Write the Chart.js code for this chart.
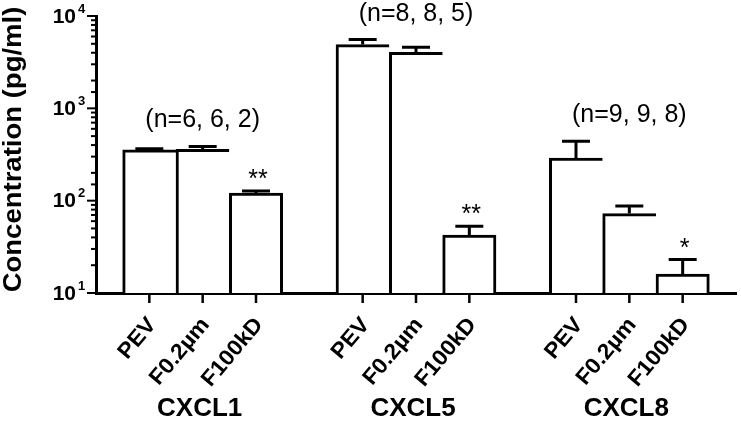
<!DOCTYPE html>
<html>
<head>
<meta charset="utf-8">
<script src="https://cdn.jsdelivr.net/npm/chart.js@4"></script>
<style>
  html, body { margin: 0; padding: 0; background: #fff; }
  #wrap { width: 741px; height: 422px; }
</style>
</head>
<body>
<div id="wrap"><canvas id="chart"></canvas></div>
<script>
// groups and treatments
const groups = ["CXCL1", "CXCL5", "CXCL8"];
const treatments = ["PEV", "F0.2µm", "F100kD"];
// mean concentration (pg/ml) per group, in treatment order
const cxcl1Means = [355, 360, 121];
const cxcl5Means = [4900, 4050, 42.5];
const cxcl8Means = [290, 72.5, 16];
// upper error (SEM) per group
const cxcl1Errors = [10, 25, 6];
const cxcl5Errors = [650, 550, 10.5];
const cxcl8Errors = [150, 15, 7];
const sampleSizes = ["(n=6, 6, 2)", "(n=8, 8, 5)", "(n=9, 9, 8)"];
const stars = [["", "", "**"], ["", "", "**"], ["", "", "*"]];
const yTickValues = [10, 100, 1000, 10000];

const FONT = '"Liberation Sans", Arial, Helvetica, sans-serif';
const means = [cxcl1Means, cxcl5Means, cxcl8Means];
const errors = [cxcl1Errors, cxcl5Errors, cxcl8Errors];

// one empty slot at each end and between groups
const labels = [""];
const values = [null];
const errs = [null];
const slotInfo = [null];
groups.forEach((g, gi) => {
  treatments.forEach((t, ti) => {
    labels.push(t);
    values.push(means[gi][ti]);
    errs.push(errors[gi][ti]);
    slotInfo.push({ group: gi, treat: ti });
  });
  labels.push("");
  values.push(null);
  errs.push(null);
  slotInfo.push(null);
});

function drawText(ctx, text, x, y, o) {
  ctx.save();
  ctx.translate(x, y);
  if (o.angle) ctx.rotate(o.angle);
  if (o.sx) ctx.scale(o.sx, 1);
  ctx.font = (o.weight || "normal") + " " + o.size + "px " + FONT;
  ctx.textAlign = o.align || "center";
  ctx.textBaseline = o.baseline || "middle";
  ctx.fillStyle = "#000";
  ctx.fillText(text, 0, 0);
  ctx.restore();
}

const decorations = {
  id: "decorations",
  afterDatasetsDraw(chart) {
    const ctx = chart.ctx;
    const x = chart.scales.x;
    const y = chart.scales.y;
    const area = chart.chartArea;
    ctx.save();
    ctx.strokeStyle = "#000";
    ctx.lineCap = "butt";

    // error bars (upper only)
    values.forEach((v, i) => {
      if (v == null) return;
      const cx = x.getPixelForValue(i);
      const top = y.getPixelForValue(v);
      const end = y.getPixelForValue(v + errs[i]);
      ctx.lineWidth = 3;
      ctx.beginPath();
      ctx.moveTo(cx, top);
      ctx.lineTo(cx, end);
      ctx.moveTo(cx - 14, end);
      ctx.lineTo(cx + 14, end);
      ctx.stroke();
    });

    // y ticks: long at decades, short for the minor ones
    y.ticks.forEach((t) => {
      const py = y.getPixelForValue(t.value);
      const major = Math.abs(Math.log10(t.value) - Math.round(Math.log10(t.value))) < 1e-6;
      ctx.lineWidth = 2;
      ctx.beginPath();
      ctx.moveTo(area.left, py);
      ctx.lineTo(area.left - (major ? 9 : 5), py);
      ctx.stroke();
    });

    // x ticks under each bar
    labels.forEach((l, i) => {
      if (!l) return;
      const px = x.getPixelForValue(i);
      ctx.lineWidth = 2.5;
      ctx.beginPath();
      ctx.moveTo(px, area.bottom);
      ctx.lineTo(px, area.bottom + 10);
      ctx.stroke();
    });
    ctx.restore();

    // y tick labels 10^n
    yTickValues.forEach((v) => {
      const py = y.getPixelForValue(v);
      const exp = String(Math.round(Math.log10(v)));
      drawText(ctx, "10", area.left - 20, py + 1, { size: 21, weight: "bold", align: "right" });
      drawText(ctx, exp, area.left - 18, py - 7, { size: 13, weight: "bold", align: "left" });
    });

    // y title
    drawText(ctx, "Concentration (pg/ml)", 14, (area.top + area.bottom) / 2 - 5,
      { size: 25, weight: "bold", angle: -Math.PI / 2, sx: 1.1 });

    // rotated treatment labels
    labels.forEach((l, i) => {
      if (!l) return;
      const px = x.getPixelForValue(i);
      drawText(ctx, l, px + 3, area.bottom + 28,
        { size: 22, weight: "bold", align: "right", angle: -50 * Math.PI / 180, sx: 1.05 });
    });

    // group labels, sample sizes and significance stars
    groups.forEach((g, gi) => {
      const idx = [];
      slotInfo.forEach((s, i) => { if (s && s.group === gi) idx.push(i); });
      const cx = x.getPixelForValue(idx[1]);
      drawText(ctx, g, cx - 3, 409, { size: 26, weight: "bold" });
      const capTop = Math.min(...idx.map((i) => y.getPixelForValue(values[i] + errs[i])));
      drawText(ctx, sampleSizes[gi], cx, capTop - 26, { size: 25 });
      idx.forEach((i, k) => {
        const s = stars[gi][k];
        if (!s) return;
        const py = y.getPixelForValue(values[i] + errs[i]);
        drawText(ctx, s, x.getPixelForValue(i) + 2, py - 4, { size: 25, baseline: "alphabetic" });
      });
    });
  }
};

new Chart(document.getElementById("chart"), {
  type: "bar",
  data: {
    labels: labels,
    datasets: [{
      data: values,
      backgroundColor: "#fff",
      borderColor: "#000",
      borderWidth: (c) => {
        const s = slotInfo[c.dataIndex];
        return { left: 3, top: 3, right: s && s.treat === 2 ? 3 : 0, bottom: 0 };
      },
      borderSkipped: "start",
      barPercentage: 1,
      categoryPercentage: 1
    }]
  },
  options: {
    responsive: true,
    maintainAspectRatio: false,
    animation: false,
    layout: { padding: { left: 88, right: 5, top: 16, bottom: 121 } },
    plugins: { legend: { display: false }, tooltip: { enabled: false } },
    scales: {
      x: {
        type: "category",
        offset: false,
        grid: { display: false },
        ticks: { display: false },
        border: { display: true, color: "#000", width: 3 }
      },
      y: {
        type: "logarithmic",
        min: 10,
        max: 10000,
        grid: { display: false },
        ticks: { display: false },
        border: { display: true, color: "#000", width: 3 }
      }
    }
  },
  plugins: [decorations]
});
</script>
</body>
</html>
